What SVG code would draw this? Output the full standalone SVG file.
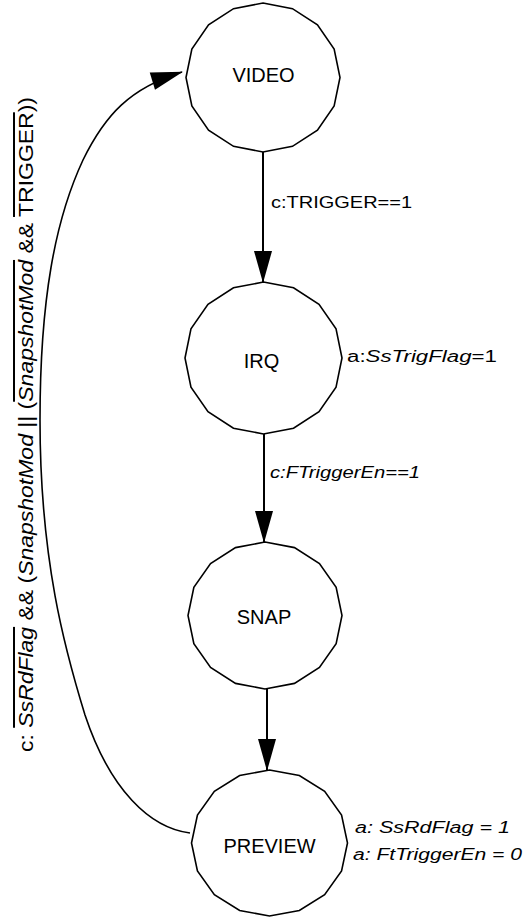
<svg xmlns="http://www.w3.org/2000/svg" width="528" height="917" viewBox="0 0 528 917">
<style>
.state{fill:#fff;stroke:#000;stroke-width:1.6;stroke-linejoin:miter}
.sl{font-family:"Liberation Sans",Arial,sans-serif;font-size:20px;fill:#000;text-anchor:middle}
.el{font-family:"Liberation Sans",Arial,sans-serif;font-size:16px;fill:#000}
.rl{font-family:"Liberation Sans",Arial,sans-serif;font-size:20px;fill:#000}
.it{font-style:italic}
.ov{text-decoration:overline}
.conn{fill:none;stroke:#000;stroke-width:2}
.curve{fill:none;stroke:#000;stroke-width:1.6}
</style>
<defs>
<marker id="arr" markerUnits="userSpaceOnUse" markerWidth="34" markerHeight="20" refX="31" refY="9" orient="auto" overflow="visible">
<path d="M0,0 L32,9 L0,18 Z" fill="#000"/>
</marker>
</defs>
<g id="connectors">
<line class="conn" x1="263" y1="152" x2="263" y2="282" marker-end="url(#arr)"/>
<line class="conn" x1="264" y1="434" x2="264" y2="542" marker-end="url(#arr)"/>
<line class="conn" x1="267" y1="689" x2="267" y2="770" marker-end="url(#arr)"/>
<path class="curve" d="M190,833 C150,828 110,790 85,715 C65,650 40,560 40,420 C40,300 55,220 83,160 C105,115 130,88 182,72" marker-end="url(#arr)"/>
<text class="el" x="271" y="208" textLength="141" lengthAdjust="spacingAndGlyphs">c:TRIGGER==1</text>
<text class="el it" x="270" y="478" textLength="150" lengthAdjust="spacingAndGlyphs">c:FTriggerEn==1</text>
<text class="rl" x="0" y="0" transform="translate(33,752) rotate(-90)" textLength="655" lengthAdjust="spacingAndGlyphs">c: <tspan class="it ov">SsRdFlag</tspan> &amp;&amp; (<tspan class="it">SnapshotMod</tspan> || (<tspan class="it ov">SnapshotMod</tspan> &amp;&amp; <tspan class="ov">TRIGGER</tspan>))</text>
</g>
<g id="video">
<polygon class="state" points="263,3 292.47,8.67 317.45,24.82 334.14,48.99 340,77.5 334.14,106.01 317.45,130.18 292.47,146.33 263,152 233.53,146.33 208.55,130.18 191.86,106.01 186,77.5 191.86,48.99 208.55,24.82 233.53,8.67"/>
<text class="sl" x="263.5" y="82">VIDEO</text>
</g>
<g id="irq">
<polygon class="state" points="263.5,282 293.54,287.78 319.01,304.26 336.03,328.91 342,358 336.03,387.09 319.01,411.74 293.54,428.22 263.5,434 233.46,428.22 207.99,411.74 190.97,387.09 185,358 190.97,328.91 207.99,304.26 233.46,287.78"/>
<text class="sl" x="261.5" y="368">IRQ</text>
<text class="el" x="347" y="362" textLength="150" lengthAdjust="spacingAndGlyphs">a:<tspan class="it">SsTrigFlag</tspan>=1</text>
</g>
<g id="snap">
<polygon class="state" points="265,542 294.47,547.59 319.45,563.53 336.14,587.37 342,615.5 336.14,643.63 319.45,667.47 294.47,683.41 265,689 235.53,683.41 210.55,667.47 193.86,643.63 188,615.5 193.86,587.37 210.55,563.53 235.53,547.59"/>
<text class="sl" x="264" y="624">SNAP</text>
</g>
<g id="preview">
<polygon class="state" points="269.5,770 299.35,775.56 324.65,791.38 341.56,815.06 347.5,843 341.56,870.94 324.65,894.62 299.35,910.44 269.5,916 239.65,910.44 214.35,894.62 197.44,870.94 191.5,843 197.44,815.06 214.35,791.38 239.65,775.56"/>
<text class="sl" x="269.5" y="853">PREVIEW</text>
<text class="el it" x="355" y="833" textLength="155" lengthAdjust="spacingAndGlyphs">a: SsRdFlag = 1</text>
<text class="el it" x="353" y="860" textLength="169" lengthAdjust="spacingAndGlyphs">a: FtTriggerEn = 0</text>
</g>
</svg>
